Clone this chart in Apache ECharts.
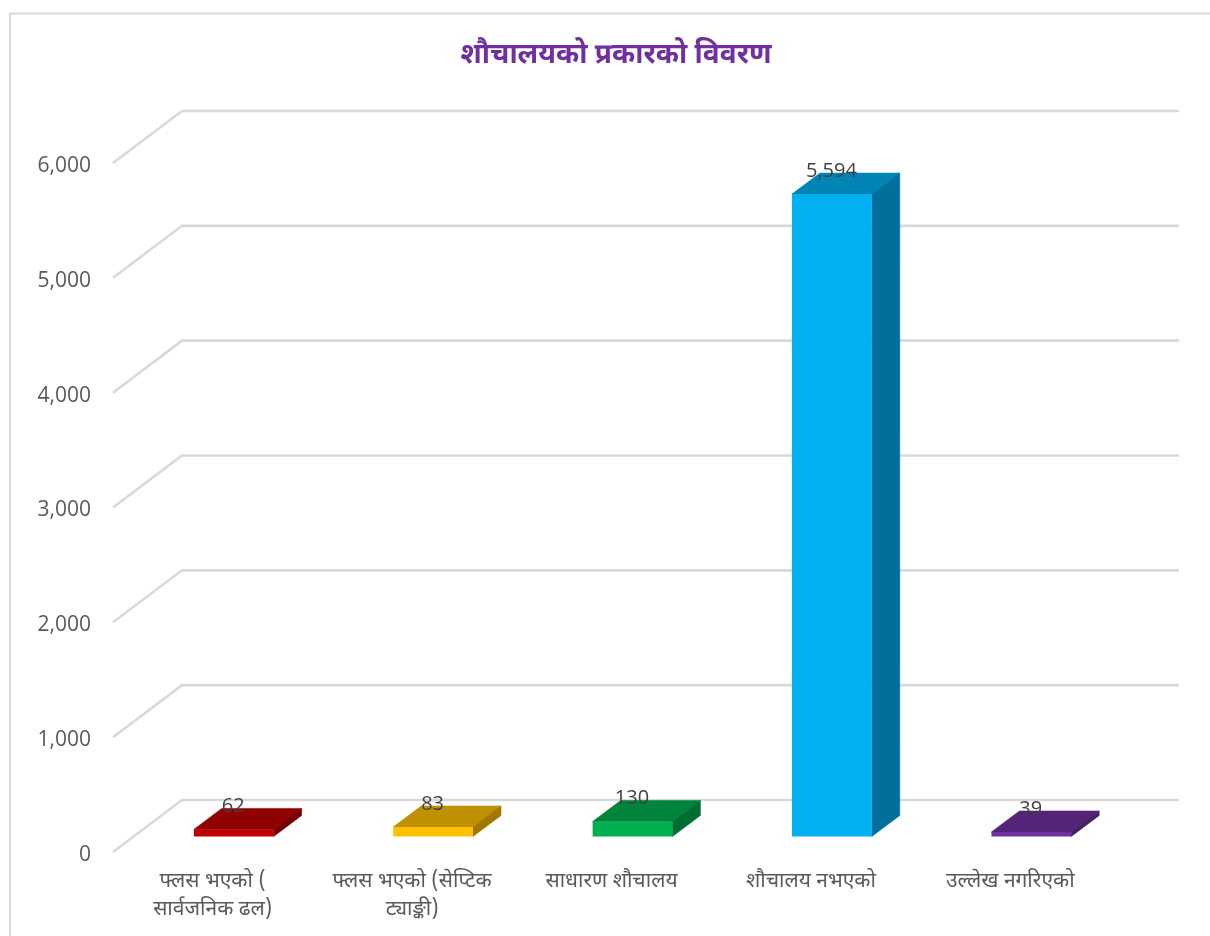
<!DOCTYPE html>
<html>
<head>
<meta charset="utf-8">
<style>
  html, body { margin: 0; padding: 0; background: #fff; }
  #main { width: 1210px; height: 936px; }
</style>
<script src="https://cdn.jsdelivr.net/npm/echarts@6/dist/echarts.min.js"></script>
</head>
<body>
<div id="main"></div>
<script>
const categories = [
  'फ्लस भएको (\nसार्वजनिक ढल)',
  'फ्लस भएको (सेप्टिक\nट्याङ्की)',
  'साधारण शौचालय',
  'शौचालय नभएको',
  'उल्लेख नगरिएको',
];
const values = [62, 83, 130, 5594, 39];
const yTicks = [0, 1000, 2000, 3000, 4000, 5000, 6000];
const titleText = 'शौचालयको प्रकारको विवरण';

const frontColors = ['#C00000', '#FFC000', '#00B050', '#00B0F0', '#7030A0'];
const topColors = ['#900000', '#BF9000', '#00843C', '#0084B4', '#542478'];
const sideColors = ['#730000', '#9E7800', '#006E32', '#006F9C', '#46205F'];

const devanagari = '"Noto Sans Devanagari", "Noto Sans", sans-serif';
const latin = '"Open Sans", "Noto Sans", sans-serif';

// the picture is a fake 3D chart: walls go back by this much
const wallDx = 69;
const wallDy = -52;
const barDx = 28;
const barDy = -21;
const barOffsetX = 21;
const barOffsetY = -15.5;

const myChart = echarts.init(document.getElementById('main'));

function renderWall(params, api) {
  const pt = api.coord([0, api.value(1)]);
  const x0 = params.coordSys.x;
  const x1 = x0 + params.coordSys.width;
  return {
    type: 'polyline',
    silent: true,
    shape: {
      points: [
        [x0, pt[1]],
        [x0 + wallDx, pt[1] + wallDy],
        [x1 + wallDx, pt[1] + wallDy],
      ],
    },
    style: { fill: null, stroke: '#D9D9D9', lineWidth: 2.6 },
  };
}

function renderBar(params, api) {
  const i = params.dataIndex;
  const top = api.coord([i, api.value(1)]);
  const base = api.coord([i, 0]);
  const w = api.size([1, 0])[0] * 0.4;
  const x0 = top[0] - w / 2 + barOffsetX;
  const x1 = x0 + w;
  const yt = top[1] + barOffsetY;
  const yb = base[1] + barOffsetY;
  return {
    type: 'group',
    children: [
      {
        type: 'polygon',
        shape: { points: [[x0, yt], [x0 + barDx, yt + barDy], [x1 + barDx, yt + barDy], [x1, yt]] },
        style: { fill: topColors[i], stroke: topColors[i], lineWidth: 0.6 },
      },
      {
        type: 'polygon',
        shape: { points: [[x1, yt], [x1 + barDx, yt + barDy], [x1 + barDx, yb + barDy], [x1, yb]] },
        style: { fill: sideColors[i], stroke: sideColors[i], lineWidth: 0.6 },
      },
      {
        type: 'rect',
        shape: { x: x0, y: yt, width: w, height: yb - yt },
        style: { fill: frontColors[i] },
      },
      {
        type: 'text',
        z2: 10,
        style: {
          x: (x0 + x1) / 2 - 0.5,
          y: yt - 23,
          text: api.value(1).toLocaleString('en-US'),
          fill: '#404040',
          font: '20px "Open Sans", "Noto Sans", sans-serif',
          align: 'center',
          verticalAlign: 'middle',
        },
      },
    ],
  };
}

const option = {
  animation: false,
  graphic: [
    {
      type: 'rect',
      silent: true,
      shape: { x: 10, y: 13.5, width: 1300, height: 1000 },
      style: { fill: null, stroke: '#D9D9D9', lineWidth: 2 },
    },
  ],
  title: {
    text: titleText,
    left: 611,
    top: 39,
    textAlign: 'center',
    textStyle: {
      color: '#7030A0',
      fontFamily: devanagari,
      fontSize: 28,
      fontWeight: 'bold',
    },
  },
  grid: { left: 113, right: 100, top: 163, height: 689 },
  xAxis: {
    type: 'category',
    data: categories,
    axisLine: { show: false },
    axisTick: { show: false },
    axisLabel: {
      color: '#595959',
      fontFamily: devanagari,
      fontSize: 21,
      lineHeight: 28,
      margin: 17,
      interval: 0,
      verticalAlign: 'top',
    },
  },
  yAxis: {
    type: 'value',
    min: 0,
    max: 6000,
    interval: 1000,
    axisLine: { show: false },
    axisTick: { show: false },
    splitLine: { show: false },
    axisLabel: {
      color: '#595959',
      fontFamily: latin,
      fontSize: 21,
      margin: 22,
      verticalAlign: 'top',
      lineHeight: 6,
      formatter: (v) => v.toLocaleString('en-US'),
    },
  },
  series: [
    {
      type: 'custom',
      z: 1,
      clip: false,
      silent: true,
      encode: { x: 0, y: 1 },
      data: yTicks.map((t) => [0, t]),
      renderItem: renderWall,
    },
    {
      type: 'custom',
      z: 2,
      clip: false,
      silent: true,
      encode: { x: 0, y: 1 },
      data: values.map((v, i) => [i, v]),
      renderItem: renderBar,
    },
  ],
};

myChart.setOption(option);
</script>
</body>
</html>
